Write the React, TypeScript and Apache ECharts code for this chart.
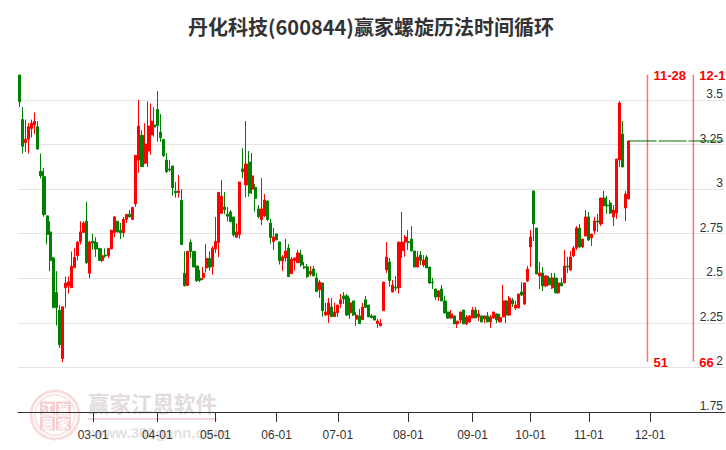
import React, { useEffect, useRef } from "react";
import * as echarts from "echarts";

const titleText = "丹化科技(600844)赢家螺旋历法时间循环";

const opens = [
  3.64,3.39,3.26,3.28,3.34,3.36,3.35,3.10,3.07,2.85,
  2.76,2.614,2.42,2.32,2.05,2.447,2.457,2.447,2.56,2.627,
  2.705,2.757,2.82,2.528,2.707,2.70,2.668,2.60,2.63,2.627,
  2.664,2.757,2.82,2.77,2.756,2.83,2.859,2.83,2.917,3.163,
  3.302,3.145,3.214,3.304,3.36,3.447,3.319,3.279,3.163,3.113,
  3.13,2.988,2.98,2.937,2.528,2.459,2.702,2.651,2.569,2.50,
  2.505,2.558,2.612,2.565,2.664,2.70,2.864,2.90,2.859,2.872,
  2.844,2.73,2.745,3.113,3.023,3.152,3.0,3.01,2.889,2.829,
  2.851,2.934,2.81,2.706,2.749,2.704,2.597,2.614,2.67,2.526,
  2.60,2.588,2.631,2.564,2.564,2.524,2.552,2.502,2.435,2.474,
  2.294,2.294,2.339,2.285,2.306,2.356,2.401,2.401,2.306,2.373,
  2.27,2.289,2.268,2.379,2.35,2.289,2.289,2.246,2.233,2.319,
  2.547,2.591,2.423,2.449,2.447,2.655,2.703,2.705,2.72,2.653,
  2.563,2.63,2.574,2.619,2.563,2.479,2.44,2.395,2.44,2.373,
  2.311,2.277,2.289,2.244,2.266,2.322,2.244,2.255,2.277,2.322,
  2.283,2.289,2.272,2.289,2.255,2.277,2.30,2.255,2.283,2.373,
  2.294,2.378,2.333,2.333,2.423,2.356,2.485,2.676,2.99,2.782,
  2.513,2.53,2.457,2.502,2.446,2.502,2.418,2.474,2.474,2.569,
  2.547,2.625,2.67,2.782,2.676,2.737,2.844,2.726,2.765,2.821,
  2.805,2.95,2.911,2.922,2.844,2.866,3.163,3.309,2.894,2.945,
];
const closes = [
  3.49,3.24,3.28,3.35,3.37,3.38,3.225,3.075,2.857,2.745,
  2.60,2.335,2.335,2.127,2.34,2.473,2.48,2.567,2.617,2.703,
  2.76,2.81,2.587,2.703,2.698,2.664,2.60,2.627,2.625,2.668,
  2.77,2.844,2.76,2.755,2.83,2.859,2.844,2.898,3.19,3.354,
  3.126,3.253,3.354,3.382,3.348,3.356,3.289,3.188,3.098,3.107,
  3.008,2.98,2.99,2.689,2.459,2.651,2.65,2.563,2.487,2.49,
  2.528,2.612,2.562,2.668,2.707,2.982,2.96,2.885,2.848,2.818,
  2.743,2.76,3.04,3.098,3.141,2.978,3.074,2.947,2.846,2.889,
  2.939,2.829,2.728,2.732,2.715,2.599,2.62,2.653,2.509,2.608,
  2.614,2.642,2.575,2.558,2.509,2.539,2.513,2.425,2.479,2.319,
  2.311,2.362,2.285,2.311,2.35,2.379,2.384,2.294,2.362,2.294,
  2.294,2.246,2.339,2.337,2.283,2.28,2.266,2.26,2.248,2.479,
  2.619,2.487,2.462,2.445,2.703,2.703,2.731,2.70,2.653,2.563,
  2.619,2.601,2.603,2.558,2.474,2.475,2.395,2.429,2.373,2.305,
  2.277,2.30,2.244,2.26,2.311,2.244,2.283,2.289,2.322,2.277,
  2.30,2.255,2.289,2.255,2.283,2.311,2.266,2.281,2.373,2.294,
  2.389,2.356,2.35,2.412,2.406,2.474,2.552,2.732,2.805,2.524,
  2.53,2.457,2.513,2.463,2.502,2.418,2.474,2.457,2.569,2.563,
  2.62,2.67,2.782,2.676,2.72,2.844,2.715,2.748,2.821,2.816,
  2.95,2.906,2.906,2.866,2.883,3.169,3.483,3.124,2.973,3.27,
];
const highs = [
  3.64,3.46,3.39,3.37,3.39,3.43,3.38,3.20,3.12,2.85,
  2.82,2.62,2.54,2.35,2.34,2.51,2.51,2.65,2.668,2.71,
  2.82,2.82,2.93,2.71,2.75,2.73,2.668,2.668,2.668,2.668,
  2.77,2.85,2.82,2.81,2.844,2.86,2.883,2.898,3.19,3.50,
  3.33,3.369,3.492,3.481,3.459,3.55,3.421,3.279,3.201,3.163,
  3.13,3.04,3.079,3.0,2.651,2.651,2.719,2.651,2.569,2.547,
  2.563,2.692,2.651,2.681,2.844,2.982,3.051,2.984,2.90,2.883,
  2.844,2.808,3.04,3.23,3.382,3.214,3.203,3.029,2.911,3.063,
  2.973,2.934,2.833,2.782,2.749,2.704,2.631,2.721,2.693,2.62,
  2.614,2.659,2.659,2.592,2.58,2.569,2.569,2.53,2.491,2.474,
  2.362,2.39,2.39,2.362,2.35,2.412,2.423,2.412,2.39,2.373,
  2.311,2.328,2.362,2.401,2.35,2.30,2.289,2.272,2.272,2.479,
  2.703,2.614,2.49,2.513,2.703,2.872,2.743,2.771,2.793,2.653,
  2.653,2.653,2.63,2.63,2.563,2.502,2.44,2.434,2.462,2.401,
  2.311,2.322,2.289,2.26,2.311,2.322,2.294,2.294,2.339,2.339,
  2.322,2.289,2.289,2.311,2.294,2.311,2.30,2.30,2.462,2.378,
  2.401,2.389,2.373,2.412,2.479,2.474,2.569,2.771,2.99,2.782,
  2.592,2.563,2.519,2.513,2.53,2.53,2.502,2.502,2.659,2.62,
  2.653,2.681,2.793,2.805,2.72,2.883,2.872,2.748,2.844,2.861,
  2.95,2.99,2.962,2.939,2.911,3.169,3.494,3.382,2.99,3.27,
];
const lows = [
  3.46,3.20,3.21,3.20,3.29,3.31,3.22,3.06,2.845,2.69,
  2.54,2.335,2.235,2.11,2.03,2.335,2.414,2.447,2.56,2.60,
  2.69,2.757,2.58,2.50,2.66,2.62,2.60,2.59,2.614,2.614,
  2.664,2.73,2.756,2.72,2.73,2.81,2.844,2.83,2.90,3.092,
  3.126,3.141,3.124,3.193,3.294,3.266,3.266,3.18,3.09,3.096,
  2.963,2.952,2.952,2.689,2.453,2.459,2.614,2.563,2.479,2.479,
  2.491,2.532,2.543,2.52,2.642,2.619,2.86,2.859,2.82,2.814,
  2.732,2.73,2.722,3.062,2.954,2.958,2.973,2.874,2.835,2.799,
  2.844,2.822,2.694,2.659,2.715,2.577,2.541,2.592,2.509,2.526,
  2.543,2.588,2.564,2.552,2.502,2.513,2.513,2.425,2.39,2.285,
  2.289,2.25,2.283,2.283,2.283,2.334,2.356,2.289,2.272,2.289,
  2.233,2.246,2.268,2.334,2.283,2.274,2.263,2.222,2.233,2.319,
  2.53,2.453,2.423,2.429,2.414,2.614,2.621,2.659,2.653,2.563,
  2.563,2.574,2.563,2.558,2.468,2.44,2.378,2.373,2.373,2.305,
  2.272,2.272,2.244,2.221,2.249,2.244,2.238,2.249,2.277,2.277,
  2.26,2.255,2.249,2.255,2.221,2.272,2.249,2.255,2.283,2.249,
  2.289,2.339,2.322,2.333,2.401,2.35,2.479,2.563,2.709,2.524,
  2.44,2.429,2.451,2.463,2.44,2.418,2.412,2.457,2.474,2.53,
  2.541,2.62,2.659,2.67,2.67,2.737,2.709,2.681,2.748,2.76,
  2.793,2.906,2.861,2.861,2.793,2.833,3.124,3.124,2.821,2.945,
];

const slotCount = 231;
const tickSlots = [24, 45, 64, 84, 104, 127, 148, 167, 186, 206];
const tickLabels = ["03-01", "04-01", "05-01", "06-01", "07-01", "08-01", "09-01", "10-01", "11-01", "12-01"];
const cycleSlots = [205, 220];
const cycleDates = ["11-28", "12-19"];
const cycleCounts = ["51", "66"];
const cycleTop = 3.642;
const cycleBottom = 2.032;

const categories = Array.from({ length: slotCount }, (_, i) => {
  const k = tickSlots.indexOf(i);
  return k >= 0 ? tickLabels[k] : String(i);
});
const candleData = opens.map((o, i) => [o, closes[i], lows[i], highs[i]]);
const lastIndex = closes.length - 1;
const lastCloseLine = categories.map((_, i) => (i >= lastIndex ? closes[lastIndex] : null));
const isTick = (i: number) => tickSlots.includes(i);

const FONT = "'Liberation Sans', Arial, sans-serif";
const CJK = "'Noto Sans CJK SC', sans-serif";
const WM = "#e3dcdc";
const PINK = "#f4cfcf";

const logoSquares = [
  { x: 40, y: 401.5, t: "江" },
  { x: 56, y: 401.5, t: "赢" },
  { x: 40, y: 416.5, t: "恩" },
  { x: 56, y: 416.5, t: "家" },
];

export default function App() {
  const ref = useRef<HTMLDivElement>(null);
  useEffect(() => {
    const chart = echarts.init(ref.current!, null, { renderer: "svg" });
    chart.setOption({
      animation: false,
      backgroundColor: "#fff",
      title: {
        text: titleText,
        left: 183,
        top: 11,
        textStyle: { fontFamily: CJK, fontSize: 20, fontWeight: "bold", color: "#333" },
      },
      grid: { left: 18, right: 0, top: 55.4, bottom: 38 },
      xAxis: {
        type: "category",
        data: categories,
        boundaryGap: true,
        axisLine: { show: true, lineStyle: { color: "#333", width: 1 } },
        axisTick: { show: true, alignWithLabel: true, length: 10, interval: (i: number) => isTick(i), lineStyle: { color: "#333" } },
        axisLabel: { interval: (i: number) => isTick(i), margin: 17, color: "#333", fontFamily: FONT, fontSize: 12 },
        splitLine: { show: false },
      },
      yAxis: {
        type: "value",
        position: "right",
        min: 1.75,
        max: 3.75,
        interval: 0.25,
        axisLine: { show: false },
        axisTick: { show: false },
        axisLabel: {
          inside: true,
          showMaxLabel: false,
          margin: 2,
          verticalAlign: "bottom",
          color: "#333",
          fontFamily: FONT,
          fontSize: 12,
        },
        splitLine: { show: true, showMaxLine: false, lineStyle: { color: "#e4e4e4", width: 1 } },
      },
      graphic: [
        { type: "circle", z: -5, shape: { cx: 55, cy: 415, r: 24 }, style: { fill: "none", stroke: "#f6dcdc", lineWidth: 3 } },
        { type: "circle", z: -5, shape: { cx: 55, cy: 415, r: 20 }, style: { fill: "none", stroke: "#f9e6e6", lineWidth: 2 } },
        ...logoSquares.map((s) => ({
          type: "rect", z: -5, shape: { x: s.x, y: s.y, width: 15, height: 14 }, style: { fill: PINK },
        })),
        ...logoSquares.map((s) => ({
          type: "text", z: -4, x: s.x + 7.5, y: s.y + 7,
          style: { text: s.t, fill: "#fff", fontFamily: CJK, fontSize: 12, fontWeight: "bold", align: "center", verticalAlign: "middle" },
        })),
        {
          type: "text", z: -5, x: 88, y: 402,
          style: { text: "赢家江恩软件", fill: WM, fontFamily: CJK, fontSize: 21.5, fontWeight: "bold", verticalAlign: "middle" },
        },
        { type: "rect", z: -5, shape: { x: 88, y: 418, width: 129, height: 2 }, style: { fill: "#f0d8d8" } },
        {
          type: "text", z: -5, x: 92, y: 432,
          style: { text: "www.360gann.com", fill: "#e2e2e2", fontFamily: FONT, fontSize: 15, fontWeight: "bold", verticalAlign: "middle" },
        },
      ],
      series: [
        {
          type: "candlestick",
          data: candleData,
          barWidth: 2.6,
          itemStyle: {
            color: "#ff0000",
            color0: "#008000",
            borderColor: "#ff0000",
            borderColor0: "#008000",
            borderWidth: 1,
          },
        },
        {
          type: "line",
          data: lastCloseLine,
          symbol: "none",
          connectNulls: false,
          lineStyle: { color: "#006400", width: 1, type: [28, 2] },
        },
        {
          type: "custom",
          clip: false,
          data: cycleSlots.map((slot, i) => [slot, cycleTop, cycleBottom, i]),
          encode: { x: 0, y: [1, 2] },
          renderItem: (_params: any, api: any) => {
            const slot = api.value(0);
            const i = api.value(3);
            const top = api.coord([slot, api.value(1)]);
            const bottom = api.coord([slot, api.value(2)]);
            const text = (t: string, x: number, y: number) => ({
              type: "text",
              style: { text: t, x, y, fill: "#ff0000", fontFamily: FONT, fontSize: 13, fontWeight: "bold", align: "left", verticalAlign: "middle" },
            });
            return {
              type: "group",
              children: [
                {
                  type: "line",
                  shape: { x1: top[0] + 0.5, y1: top[1], x2: bottom[0] + 0.5, y2: bottom[1] },
                  style: { stroke: "rgba(255,0,0,0.55)", lineWidth: 1.5 },
                },
                text(cycleDates[i], top[0] + 6.5, top[1] + 1),
                text(cycleCounts[i], top[0] + 6.5, bottom[1] + 1),
              ],
            };
          },
        },
      ],
    });
    return () => chart.dispose();
  }, []);
  return <div ref={ref} style={{ position: "fixed", left: 0, top: 0, width: 726, height: 450 }} />;
}
